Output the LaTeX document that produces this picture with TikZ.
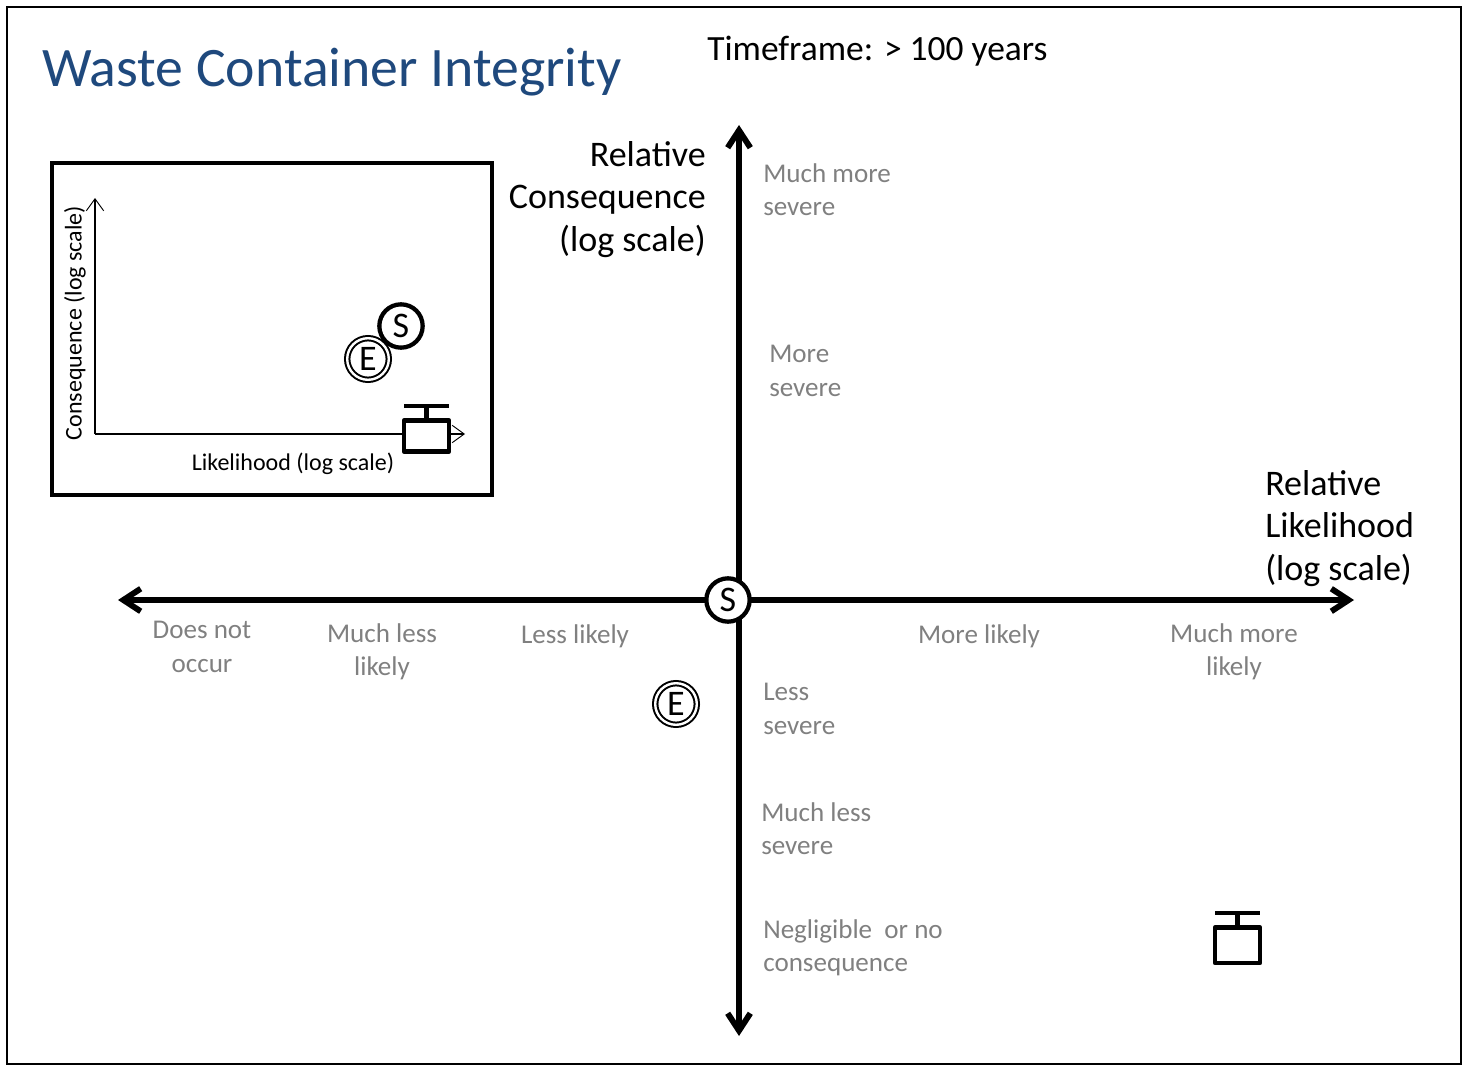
\documentclass[tikz,border=0pt]{standalone}
\usepackage{fontspec}
\setmainfont{Carlito}
\usetikzlibrary{arrows.meta}
\definecolor{titleblue}{RGB}{31,73,125}
\definecolor{tickgray}{RGB}{128,128,128}
\tikzset{
  axisline/.style={line width=4.4pt,-{Straight Barb[length=13pt,width=17pt,line width=4.4pt]}},
  insetaxis/.style={line width=0.9pt,-{Straight Barb[length=9pt,width=13pt,line width=0.7pt]}},
  tick/.style={text=tickgray,font=\fontsize{20.3}{25}\selectfont,align=center,inner sep=0pt},
  ticklft/.style={tick,align=left},
  axistitle/.style={font=\fontsize{27}{32}\selectfont,inner sep=0pt},
  scen/.style={circle,draw,fill=white,inner sep=0pt,font=\fontsize{27}{27}\selectfont},
  scenS/.style={scen,minimum size=32.5pt,line width=3.2pt},
  scenE/.style={scen,minimum size=31.2pt,line width=1.5pt,double,double distance=1.8pt},
  contbox/.style={line width=3.4pt,line join=round},
  pics/container/.style={code={
    \draw [contbox,fill=white] (-22.5,0) rectangle (22.5,#1);
    \draw [contbox] (0,0) -- (0,-14.5);
    \draw [contbox] (-22.5,-14.5) -- (22.5,-14.5);
  }}
}
\begin{document}
\begin{tikzpicture}[x=0.75pt,y=-0.75pt]
\useasboundingbox (0,0) rectangle (1463,1066);
\node [draw,line width=1.6pt,minimum width=1091pt,minimum height=793pt,inner sep=0pt] (frame) at (734,535.5) {};
\node [anchor=west,text=titleblue,font=\fontsize{41.8}{44}\selectfont,inner sep=0pt] (title) at (42,72) {Waste Container Integrity};
\node [anchor=west,font=\fontsize{26.6}{30}\selectfont,inner sep=0pt] (time) at (707,51) {Timeframe: > 100 years};
% main axes
\coordinate (xleft) at (118,600);
\coordinate (xright) at (1354,600);
\coordinate (ytop) at (739,125);
\coordinate (ybot) at (739,1036);
\coordinate (xmid) at (728,600);
\draw [axisline] (739,600) -- (ytop);
\draw [axisline] (739,600) -- (ybot);
\draw [axisline] (xmid) -- (xleft);
\draw [axisline] (xmid) -- (xright);
\node [axistitle,anchor=north east,align=right] (ycap) at (706,141) {Relative\\Consequence\\(log scale)};
\node [axistitle,anchor=north west,align=left] (xcap) at (1265,470) {Relative\\Likelihood\\(log scale)};
% ticks
\node [tick] (t1) at (202,647) {Does not\\occur};
\node [tick] (t2) at (382,652) {Much less\\likely};
\node [tick] (t3) at (575,636) {Less likely};
\node [tick] (t4) at (979,636) {More likely};
\node [tick] (t5) at (1234,652) {Much more\\likely};
\node [ticklft,anchor=west] (t6) at (763,190) {Much more\\severe};
\node [ticklft,anchor=west] (t7) at (769,371) {More\\severe};
\node [ticklft,anchor=west] (t8) at (763,709) {Less\\severe};
\node [ticklft,anchor=west] (t9) at (761,829) {Much less\\severe};
\node [ticklft,anchor=west] (t10) at (763,948) {Negligible~ or no\\consequence};
% scenarios
\node [scenS] (s) at (728,600) {S};
\node [scenE] (e) at (676,704) {E};
\pic at (1237.5,927.5) {container=35.5};
% inset
\node [draw,line width=2.5pt,minimum width=330pt,minimum height=249pt,inner sep=0pt] (inset) at (272,329) {};
\coordinate (orig) at (95,434);
\coordinate (ix) at (465,434);
\coordinate (iy) at (95,198);
\draw [insetaxis] (orig) -- (ix);
\draw [insetaxis] (orig) -- (iy);
\node [font=\fontsize{18}{20}\selectfont,rotate=90,inner sep=0pt] (ilab) at (75,323) {Consequence (log scale)};
\node [font=\fontsize{18}{20}\selectfont,inner sep=0pt] (xlab) at (293,464) {Likelihood (log scale)};
\node [scenE] (e2) at (368,359) {E};
\node [scenS] (s2) at (401,326) {S};
\pic at (426.5,420.5) {container=31};
\end{tikzpicture}
\end{document}
